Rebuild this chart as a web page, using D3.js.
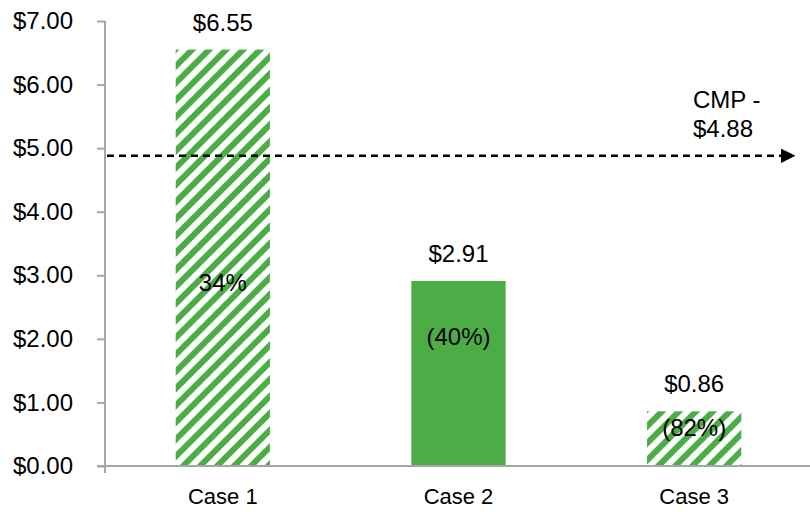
<!DOCTYPE html>
<html>
<head>
<meta charset="utf-8">
<script src="https://cdn.jsdelivr.net/npm/d3@7/dist/d3.min.js"></script>
<style>
  html, body { margin: 0; padding: 0; background: #fff; }
  svg { display: block; font-family: "Liberation Sans", Arial, sans-serif; }
</style>
</head>
<body>
<svg id="chart" width="810" height="512"></svg>
<script>
// Valuation cases vs. current market price
const categories = ["Case 1", "Case 2", "Case 3"];
const values = [6.55, 2.91, 0.86];
const pctLabels = ["34%", "(40%)", "(82%)"];
const pctAnchors = [2.88, 2.03, 0.60];      // value at which each % label sits
const hatched = [true, false, true];
const cmpValue = 4.88;
const cmpLabel = ["CMP -", "$4.88"];
const yTicks = [0, 1, 2, 3, 4, 5, 6, 7];

const green = "#4cad47";
const axisColor = "#a6a6a6";

const svg = d3.select("#chart");
const plotLeft = 105, plotRight = 812, plotTop = 21, plotBottom = 466;

const x = d3.scaleBand().domain(categories).range([plotLeft, plotRight])
  .paddingInner(0.6).paddingOuter(0.3);
const y = d3.scaleLinear().domain([0, 7]).range([plotBottom, plotTop]);
const fmt = v => "$" + d3.format(".2f")(v);

// Diagonal stripe fill
const defs = svg.append("defs");
const pat = defs.append("pattern")
  .attr("id", "hatch")
  .attr("patternUnits", "userSpaceOnUse")
  .attr("width", 12).attr("height", 12)
  .attr("patternTransform", "rotate(45)");
pat.append("rect").attr("width", 12).attr("height", 12).attr("fill", "#fff");
pat.append("rect").attr("x", 0).attr("width", 6).attr("height", 12).attr("fill", green);

// Bars
svg.append("g").selectAll("rect")
  .data(values)
  .join("rect")
  .attr("x", (d, i) => x(categories[i]))
  .attr("y", d => y(d))
  .attr("width", x.bandwidth())
  .attr("height", d => y(0) - y(d))
  .attr("fill", (d, i) => hatched[i] ? "url(#hatch)" : green);

// Y axis
const yAxis = d3.axisLeft(y).tickValues(yTicks).tickFormat(fmt).tickSize(8).tickPadding(24);
const gy = svg.append("g").attr("transform", `translate(${plotLeft},0)`).call(yAxis);
gy.select(".domain").attr("stroke", axisColor).attr("stroke-width", 2)
  .attr("d", `M0,${plotTop}V${plotBottom}`);
gy.selectAll(".tick line").attr("stroke", axisColor).attr("stroke-width", 2);
gy.selectAll(".tick text").attr("font-size", 24).attr("fill", "#000")
  .attr("font-family", "Liberation Sans, Arial, sans-serif");

// X axis
const xAxis = d3.axisBottom(x).tickSize(0).tickPadding(22);
const gx = svg.append("g").attr("transform", `translate(0,${plotBottom})`).call(xAxis);
gx.select(".domain").attr("stroke", axisColor).attr("stroke-width", 2)
  .attr("d", `M${plotLeft - 8},0H810`);
gx.selectAll(".tick text").attr("font-size", 22).attr("fill", "#000")
  .attr("font-family", "Liberation Sans, Arial, sans-serif");
gx.append("line").attr("x1", plotLeft).attr("x2", plotLeft).attr("y1", 0).attr("y2", 7)
  .attr("stroke", axisColor).attr("stroke-width", 2);

// Value labels above bars
svg.append("g").selectAll("text")
  .data(values)
  .join("text")
  .attr("x", (d, i) => x(categories[i]) + x.bandwidth() / 2)
  .attr("y", d => y(d) - 19)
  .attr("text-anchor", "middle")
  .attr("font-size", 24)
  .attr("fill", "#000")
  .text(d => fmt(d));

// Percentage labels inside bars
svg.append("g").selectAll("text")
  .data(pctLabels)
  .join("text")
  .attr("x", (d, i) => x(categories[i]) + x.bandwidth() / 2)
  .attr("y", (d, i) => y(pctAnchors[i]))
  .attr("dy", "0.35em")
  .attr("text-anchor", "middle")
  .attr("font-size", 24)
  .attr("fill", "#000")
  .text(d => d);

// CMP reference arrow
defs.append("marker")
  .attr("id", "arrow")
  .attr("viewBox", "0 0 10 10")
  .attr("refX", 0).attr("refY", 5)
  .attr("markerWidth", 6).attr("markerHeight", 6)
  .attr("markerUnits", "strokeWidth")
  .attr("orient", "auto")
  .append("path").attr("d", "M0,0L10,5L0,10Z").attr("fill", "#000");

svg.append("line")
  .attr("x1", plotLeft + 2).attr("x2", 781)
  .attr("y1", y(cmpValue)).attr("y2", y(cmpValue))
  .attr("stroke", "#000").attr("stroke-width", 2.4)
  .attr("stroke-dasharray", "7,5")
  .attr("marker-end", "url(#arrow)");

svg.append("g").selectAll("text")
  .data(cmpLabel)
  .join("text")
  .attr("x", 693)
  .attr("y", (d, i) => 108 + i * 29)
  .attr("font-size", 24)
  .attr("fill", "#000")
  .text(d => d);
</script>
</body>
</html>
